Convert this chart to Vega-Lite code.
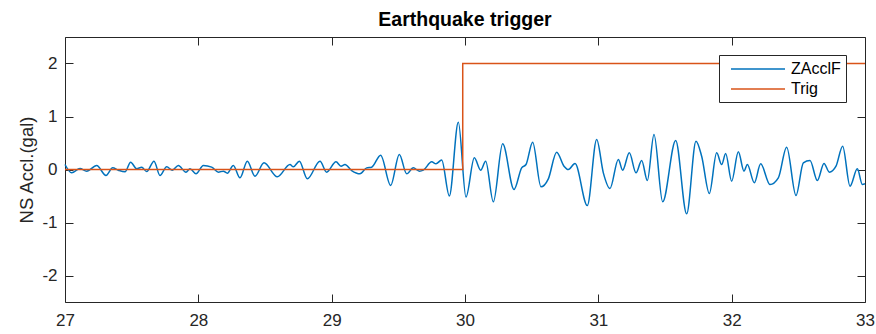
{
  "$schema": "https://vega.github.io/schema/vega-lite/v6.json",
  "width": 800,
  "height": 265,
  "autosize": {"type": "none"},
  "padding": {"left": 65, "top": 37, "right": 11, "bottom": 32},
  "background": "white",
  "title": {"text": "Earthquake trigger", "fontSize": 19.5, "fontWeight": "bold", "font": "Liberation Sans", "color": "#000000", "anchor": "middle", "frame": "group", "offset": 6},
  "config": {
    "view": {"stroke": null},
    "font": "Liberation Sans",
    "axis": {"domainColor": "#262626", "tickColor": "#262626", "labelColor": "#262626", "labelFont": "Liberation Sans", "labelFontSize": 17, "tickSize": -8, "grid": false, "domainWidth": 1, "tickWidth": 1}
  },
  "data": {"values": [
    {"t": 27.0, "v": 0.094, "s": "ZAcclF"},
    {"t": 27.05, "v": -0.063, "s": "ZAcclF"},
    {"t": 27.1125, "v": 0.019, "s": "ZAcclF"},
    {"t": 27.1625, "v": -0.031, "s": "ZAcclF"},
    {"t": 27.2375, "v": 0.075, "s": "ZAcclF"},
    {"t": 27.3075, "v": -0.113, "s": "ZAcclF"},
    {"t": 27.3575, "v": 0.031, "s": "ZAcclF"},
    {"t": 27.4, "v": -0.013, "s": "ZAcclF"},
    {"t": 27.45, "v": -0.044, "s": "ZAcclF"},
    {"t": 27.4925, "v": 0.138, "s": "ZAcclF"},
    {"t": 27.5375, "v": 0.013, "s": "ZAcclF"},
    {"t": 27.575, "v": 0.044, "s": "ZAcclF"},
    {"t": 27.6125, "v": -0.038, "s": "ZAcclF"},
    {"t": 27.6675, "v": 0.157, "s": "ZAcclF"},
    {"t": 27.7125, "v": -0.113, "s": "ZAcclF"},
    {"t": 27.7625, "v": 0.05, "s": "ZAcclF"},
    {"t": 27.805, "v": -0.013, "s": "ZAcclF"},
    {"t": 27.85, "v": 0.075, "s": "ZAcclF"},
    {"t": 27.9075, "v": -0.05, "s": "ZAcclF"},
    {"t": 27.9375, "v": 0.013, "s": "ZAcclF"},
    {"t": 27.9825, "v": -0.082, "s": "ZAcclF"},
    {"t": 28.0375, "v": 0.075, "s": "ZAcclF"},
    {"t": 28.1, "v": 0.044, "s": "ZAcclF"},
    {"t": 28.15, "v": -0.05, "s": "ZAcclF"},
    {"t": 28.1875, "v": -0.031, "s": "ZAcclF"},
    {"t": 28.2175, "v": -0.069, "s": "ZAcclF"},
    {"t": 28.2625, "v": 0.075, "s": "ZAcclF"},
    {"t": 28.3125, "v": -0.157, "s": "ZAcclF"},
    {"t": 28.3675, "v": 0.157, "s": "ZAcclF"},
    {"t": 28.425, "v": -0.126, "s": "ZAcclF"},
    {"t": 28.4925, "v": 0.126, "s": "ZAcclF"},
    {"t": 28.5925, "v": -0.138, "s": "ZAcclF"},
    {"t": 28.6875, "v": 0.094, "s": "ZAcclF"},
    {"t": 28.7125, "v": 0.05, "s": "ZAcclF"},
    {"t": 28.7575, "v": 0.157, "s": "ZAcclF"},
    {"t": 28.8175, "v": -0.176, "s": "ZAcclF"},
    {"t": 28.9125, "v": 0.157, "s": "ZAcclF"},
    {"t": 28.9625, "v": -0.05, "s": "ZAcclF"},
    {"t": 29.0325, "v": 0.145, "s": "ZAcclF"},
    {"t": 29.07, "v": 0.063, "s": "ZAcclF"},
    {"t": 29.1, "v": 0.094, "s": "ZAcclF"},
    {"t": 29.15, "v": -0.02, "s": "ZAcclF"},
    {"t": 29.2125, "v": -0.082, "s": "ZAcclF"},
    {"t": 29.2625, "v": 0.031, "s": "ZAcclF"},
    {"t": 29.3, "v": 0.044, "s": "ZAcclF"},
    {"t": 29.3675, "v": 0.27, "s": "ZAcclF"},
    {"t": 29.4425, "v": -0.3, "s": "ZAcclF"},
    {"t": 29.5075, "v": 0.283, "s": "ZAcclF"},
    {"t": 29.5625, "v": -0.082, "s": "ZAcclF"},
    {"t": 29.6125, "v": 0.031, "s": "ZAcclF"},
    {"t": 29.6575, "v": -0.031, "s": "ZAcclF"},
    {"t": 29.6875, "v": -0.013, "s": "ZAcclF"},
    {"t": 29.75, "v": 0.145, "s": "ZAcclF"},
    {"t": 29.7825, "v": 0.107, "s": "ZAcclF"},
    {"t": 29.825, "v": 0.18, "s": "ZAcclF"},
    {"t": 29.8825, "v": -0.5, "s": "ZAcclF"},
    {"t": 29.95, "v": 0.893, "s": "ZAcclF"},
    {"t": 30.0075, "v": -0.52, "s": "ZAcclF"},
    {"t": 30.07, "v": 0.22, "s": "ZAcclF"},
    {"t": 30.1175, "v": -0.013, "s": "ZAcclF"},
    {"t": 30.155, "v": 0.157, "s": "ZAcclF"},
    {"t": 30.2125, "v": -0.61, "s": "ZAcclF"},
    {"t": 30.2825, "v": 0.484, "s": "ZAcclF"},
    {"t": 30.3675, "v": -0.377, "s": "ZAcclF"},
    {"t": 30.425, "v": 0.031, "s": "ZAcclF"},
    {"t": 30.4575, "v": 0.094, "s": "ZAcclF"},
    {"t": 30.5075, "v": 0.516, "s": "ZAcclF"},
    {"t": 30.57, "v": -0.327, "s": "ZAcclF"},
    {"t": 30.625, "v": -0.176, "s": "ZAcclF"},
    {"t": 30.6875, "v": 0.327, "s": "ZAcclF"},
    {"t": 30.7425, "v": 0.063, "s": "ZAcclF"},
    {"t": 30.775, "v": 0.0, "s": "ZAcclF"},
    {"t": 30.825, "v": 0.113, "s": "ZAcclF"},
    {"t": 30.9175, "v": -0.68, "s": "ZAcclF"},
    {"t": 30.9875, "v": 0.566, "s": "ZAcclF"},
    {"t": 31.0375, "v": -0.063, "s": "ZAcclF"},
    {"t": 31.0875, "v": -0.358, "s": "ZAcclF"},
    {"t": 31.15, "v": 0.189, "s": "ZAcclF"},
    {"t": 31.1825, "v": -0.013, "s": "ZAcclF"},
    {"t": 31.2325, "v": 0.314, "s": "ZAcclF"},
    {"t": 31.2825, "v": -0.063, "s": "ZAcclF"},
    {"t": 31.325, "v": 0.17, "s": "ZAcclF"},
    {"t": 31.3675, "v": -0.208, "s": "ZAcclF"},
    {"t": 31.4175, "v": 0.66, "s": "ZAcclF"},
    {"t": 31.4825, "v": -0.61, "s": "ZAcclF"},
    {"t": 31.58, "v": 0.547, "s": "ZAcclF"},
    {"t": 31.6625, "v": -0.836, "s": "ZAcclF"},
    {"t": 31.7325, "v": 0.535, "s": "ZAcclF"},
    {"t": 31.775, "v": 0.25, "s": "ZAcclF"},
    {"t": 31.8325, "v": -0.453, "s": "ZAcclF"},
    {"t": 31.8875, "v": 0.314, "s": "ZAcclF"},
    {"t": 31.925, "v": 0.094, "s": "ZAcclF"},
    {"t": 31.955, "v": 0.3, "s": "ZAcclF"},
    {"t": 32.0, "v": -0.22, "s": "ZAcclF"},
    {"t": 32.05, "v": 0.333, "s": "ZAcclF"},
    {"t": 32.0925, "v": -0.031, "s": "ZAcclF"},
    {"t": 32.1175, "v": 0.094, "s": "ZAcclF"},
    {"t": 32.17, "v": -0.25, "s": "ZAcclF"},
    {"t": 32.2175, "v": 0.107, "s": "ZAcclF"},
    {"t": 32.2875, "v": -0.283, "s": "ZAcclF"},
    {"t": 32.35, "v": -0.157, "s": "ZAcclF"},
    {"t": 32.4125, "v": 0.421, "s": "ZAcclF"},
    {"t": 32.4825, "v": -0.49, "s": "ZAcclF"},
    {"t": 32.5375, "v": 0.126, "s": "ZAcclF"},
    {"t": 32.5875, "v": 0.17, "s": "ZAcclF"},
    {"t": 32.6425, "v": -0.208, "s": "ZAcclF"},
    {"t": 32.6925, "v": 0.113, "s": "ZAcclF"},
    {"t": 32.7325, "v": -0.05, "s": "ZAcclF"},
    {"t": 32.7825, "v": 0.063, "s": "ZAcclF"},
    {"t": 32.8325, "v": 0.44, "s": "ZAcclF"},
    {"t": 32.8875, "v": -0.314, "s": "ZAcclF"},
    {"t": 32.9425, "v": 0.013, "s": "ZAcclF"},
    {"t": 32.98, "v": -0.283, "s": "ZAcclF"},
    {"t": 33.0, "v": -0.27, "s": "ZAcclF"},
    {"t": 27.0, "v": 0, "s": "Trig"},
    {"t": 29.983, "v": 2, "s": "Trig"},
    {"t": 33.0, "v": 2, "s": "Trig"}
  ]},
  "layer": [
    {
      "transform": [{"filter": "datum.s === 'ZAcclF'"}],
      "mark": {"type": "line", "interpolate": "monotone", "strokeWidth": 1.5},
      "encoding": {
        "x": {"field": "t", "type": "quantitative", "scale": {"domain": [27, 33], "nice": false, "zero": false}, "axis": {"orient": "bottom", "values": [27, 28, 29, 30, 31, 32, 33], "title": null, "labelPadding": 18, "labelFlush": false}},
        "y": {"field": "v", "type": "quantitative", "scale": {"domain": [-2.5, 2.5], "nice": false, "zero": false}, "axis": {"orient": "left", "values": [-2, -1, 0, 1, 2], "labelExpr": "replace(datum.label, '\u2212', '-')", "title": "NS Accl.(gal)", "titleFont": "Liberation Sans", "titleFontSize": 18.5, "titleFontWeight": "normal", "titleColor": "#262626", "titleX": -33, "titleY": 132.5, "titleAngle": -90, "titleBaseline": "alphabetic", "titleAlign": "center", "labelPadding": 16}},
        "color": {"field": "s", "type": "nominal", "scale": {"domain": ["ZAcclF", "Trig"], "range": ["#0072BD", "#D95319"]},
          "legend": {"orient": "none", "legendX": 654, "legendY": 18, "title": null, "fillColor": "white", "strokeColor": "#262626", "padding": 5, "symbolType": "M-0.25,0H6.5", "symbolSize": 256, "symbolStrokeWidth": 1.5, "labelFont": "Liberation Sans", "labelFontSize": 16, "labelColor": "#000000", "labelOffset": 49, "rowPadding": 3, "cornerRadius": 0}}
      }
    },
    {
      "transform": [{"filter": "datum.s === 'Trig'"}],
      "mark": {"type": "line", "interpolate": "step-after", "strokeWidth": 1.5},
      "encoding": {
        "x": {"field": "t", "type": "quantitative", "axis": {"orient": "top", "values": [27, 28, 29, 30, 31, 32, 33], "labels": false, "title": null}},
        "y": {"field": "v", "type": "quantitative", "axis": {"orient": "right", "values": [-2, -1, 0, 1, 2], "labels": false, "title": null}},
        "color": {"field": "s", "type": "nominal"}
      }
    }
  ],
  "resolve": {"axis": {"x": "independent", "y": "independent"}}
}
